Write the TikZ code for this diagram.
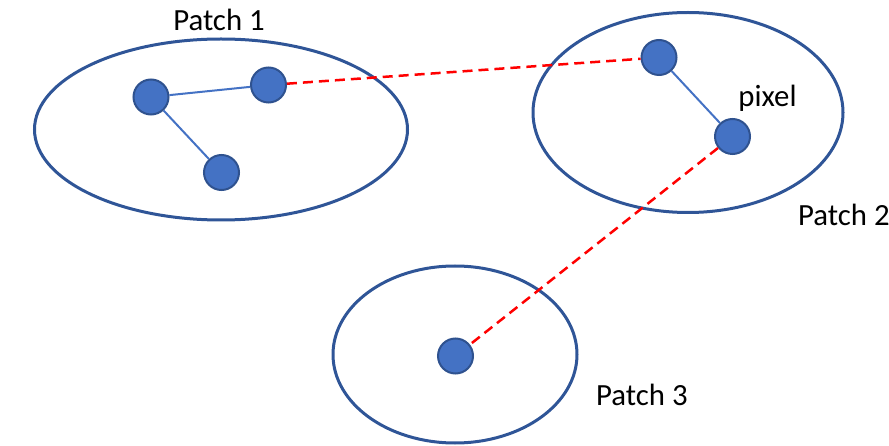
\documentclass[tikz,border=0pt]{standalone}
\usepackage{fontspec}
\setmainfont{Carlito}
\usetikzlibrary{shapes.geometric}
\definecolor{pfill}{HTML}{4472C4}
\definecolor{pborder}{HTML}{2F528F}
\definecolor{pell}{HTML}{2F5597}
\definecolor{pline}{HTML}{4472C4}
\tikzset{
  pix/.style={circle, fill=pfill, draw=pborder, line width=2pt, minimum size=35pt, inner sep=0pt},
  patch/.style={ellipse, draw=pell, line width=3pt, inner sep=0pt},
  lbl/.style={font=\fontsize{30.8}{33}\selectfont, inner sep=0pt, anchor=base},
  link/.style={draw=pline, line width=2pt},
  corr/.style={draw=red, line width=2.5pt, dash pattern=on 10pt off 6pt}
}
\begin{document}
\begin{tikzpicture}[x=1pt,y=-1pt]
\useasboundingbox (0,0) rectangle (889,446);
\node[patch, minimum width=373pt, minimum height=181pt] (e1) at (221,129.5) {};
\node[patch, minimum width=310pt, minimum height=200pt] (e2) at (688,112.5) {};
\node[patch, minimum width=244pt, minimum height=177pt] (e3) at (455,354.5) {};
\node[pix] (n1) at (151,97) {};
\node[pix] (n2) at (268.5,85) {};
\node[pix] (n3) at (221.5,172.5) {};
\node[pix] (n4) at (659,57.5) {};
\node[pix] (n5) at (732.5,136.5) {};
\node[pix] (n6) at (455.5,356) {};
\draw[link] (n1) -- (n2);
\draw[link] (n1) -- (n3);
\draw[link] (n4) -- (n5);
\draw[corr] (n2) -- (n4);
\draw[corr] (n5) -- (n6);
\node[lbl] (t1) at (219,31) {Patch 1};
\node[lbl] (t2) at (767.5,107) {pixel};
\node[lbl, anchor=base west] (t3) at (798,226) {Patch 2};
\node[lbl, anchor=base west] (t4) at (596,405) {Patch 3};
\end{tikzpicture}
\end{document}
